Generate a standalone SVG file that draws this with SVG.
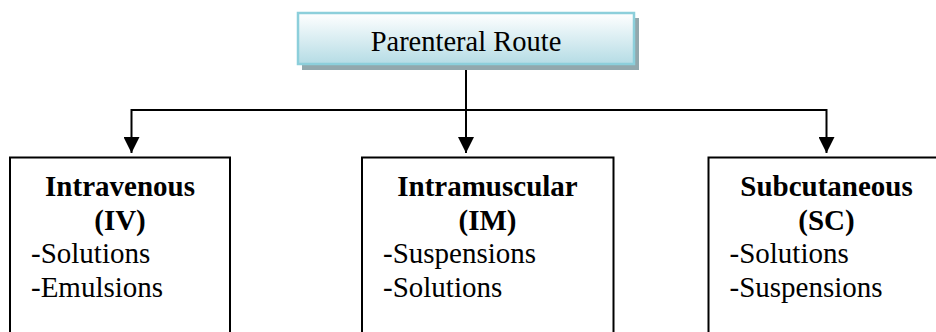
<svg xmlns="http://www.w3.org/2000/svg" width="936" height="332" viewBox="0 0 936 332">
  <defs>
    <linearGradient id="topFill" x1="0" y1="0" x2="0" y2="1">
      <stop offset="0" stop-color="#FFFFFF"/>
      <stop offset="1" stop-color="#B5DCE5"/>
    </linearGradient>
    <marker id="arrow" markerUnits="userSpaceOnUse" markerWidth="16" markerHeight="16" refX="16" refY="8" orient="auto">
      <path d="M0,0 L16,8 L0,16 z" fill="#000"/>
    </marker>
  </defs>
  <style>
    .box { fill: #FFFFFF; stroke: #000; stroke-width: 2; }
    .conn { fill: none; stroke: #000; stroke-width: 2; }
    text { font-family: 'Liberation Serif', Tinos, 'Times New Roman', Times, 'DejaVu Serif', serif; fill: #000; }
    .title { font-size: 29px; font-weight: bold; text-anchor: middle; }
    .item { font-size: 29px; }
    .root { font-size: 28.5px; text-anchor: middle; }
  </style>
  <rect width="936" height="332" fill="#FFFFFF"/>

  <g id="connectors">
    <path class="conn" d="M466,64 V110"/>
    <path class="conn" d="M131.5,110 H826.5"/>
    <path class="conn" d="M131.5,109 V153" marker-end="url(#arrow)"/>
    <path class="conn" d="M466,109 V153" marker-end="url(#arrow)"/>
    <path class="conn" d="M826.5,109 V153" marker-end="url(#arrow)"/>
  </g>

  <g id="parenteral-route">
    <rect x="302" y="18" width="337" height="52" fill="#92A8AD"/>
    <rect x="298" y="13" width="336" height="51" fill="url(#topFill)" stroke="#8CCFDB" stroke-width="2.5"/>
    <text class="root" x="466" y="51" font-family="Liberation Serif">Parenteral Route</text>
  </g>

  <g id="intravenous">
    <rect class="box" x="10" y="157.5" width="220" height="190"/>
    <text class="title" x="120" y="195.5">Intravenous</text>
    <text class="title" x="120" y="229.5">(IV)</text>
    <text class="item" x="31" y="263">-Solutions</text>
    <text class="item" x="31" y="296.5">-Emulsions</text>
  </g>

  <g id="intramuscular">
    <rect class="box" x="362" y="157.5" width="251.5" height="190"/>
    <text class="title" x="487.5" y="195.5">Intramuscular</text>
    <text class="title" x="487.5" y="229.5">(IM)</text>
    <text class="item" x="383" y="263">-Suspensions</text>
    <text class="item" x="383" y="296.5">-Solutions</text>
  </g>

  <g id="subcutaneous">
    <rect class="box" x="708.5" y="157.5" width="240" height="190"/>
    <text class="title" x="826.5" y="195.5">Subcutaneous</text>
    <text class="title" x="826.5" y="229.5">(SC)</text>
    <text class="item" x="729.5" y="263">-Solutions</text>
    <text class="item" x="729.5" y="296.5">-Suspensions</text>
  </g>
</svg>
